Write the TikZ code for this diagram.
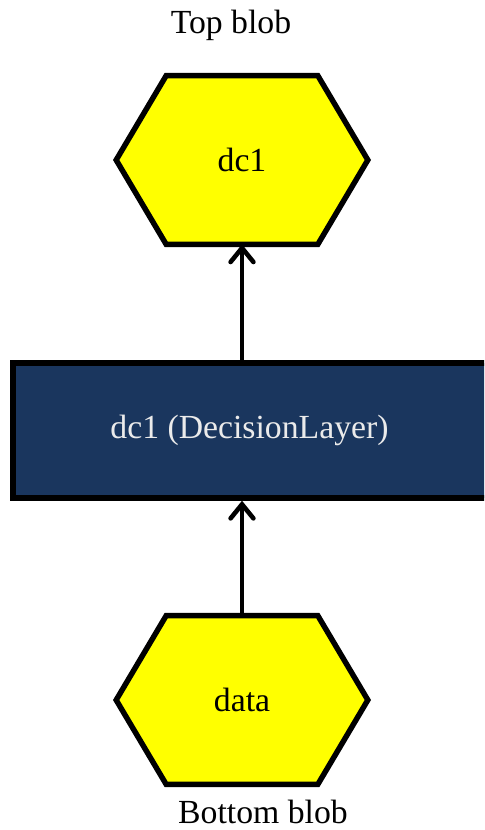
\documentclass[tikz,border=0pt]{standalone}
\usepackage{fontspec}
\setmainfont{Liberation Serif}
\usetikzlibrary{arrows.meta,backgrounds}
\definecolor{blobyellow}{RGB}{255,255,0}
\definecolor{layernavy}{RGB}{26,54,94}
\begin{document}
\begin{tikzpicture}[x=0.02cm,y=-0.02cm,
  lbl/.style={font=\fontsize{19.2}{23}\selectfont},
  blob/.style={lbl, minimum width=5.02cm, minimum height=3.36cm, inner sep=0pt},
  hexline/.style={draw=black, fill=blobyellow, line width=3.1pt, line join=miter},
  layerbox/.style={lbl, draw=black, fill=layernavy, text=white!92!black,
    line width=3.1pt, minimum width=10.3cm, minimum height=2.7cm, inner sep=0pt},
  link/.style={line width=2.6pt, -{Straight Barb[length=8pt,width=13pt,line cap=round]}}
]
\useasboundingbox (0,0) rectangle (484,830);
\clip (0,0) rectangle (484,830);

% blobs and the layer between them (the layer runs off the right edge)
\node[blob] (blobtop) at (242,160) {dc1};
\node[blob] (blobbottom) at (242,700) {data};
\node[layerbox] (layer) at (270.5,430.5) {\hspace*{-0.84cm}dc1 (DecisionLayer)};

% captions
\node[lbl] (toplabel) at (231,25) {Top blob};
\node[lbl] (bottomlabel) at (263,812) {Bottom blob};

% hexagonal outlines behind the blob labels
\begin{scope}[on background layer]
  \foreach \h in {blobtop,blobbottom}
    \draw[hexline] ([xshift=1cm]\h.north west) -- ([xshift=-1cm]\h.north east)
      -- (\h.east) -- ([xshift=-1cm]\h.south east)
      -- ([xshift=1cm]\h.south west) -- (\h.west) -- cycle;
\end{scope}

% data flow
\draw[link] (blobbottom.north) -- (blobbottom.north |- layer.south);
\draw[link] (blobtop.south |- layer.north) -- (blobtop.south);
\end{tikzpicture}
\end{document}
